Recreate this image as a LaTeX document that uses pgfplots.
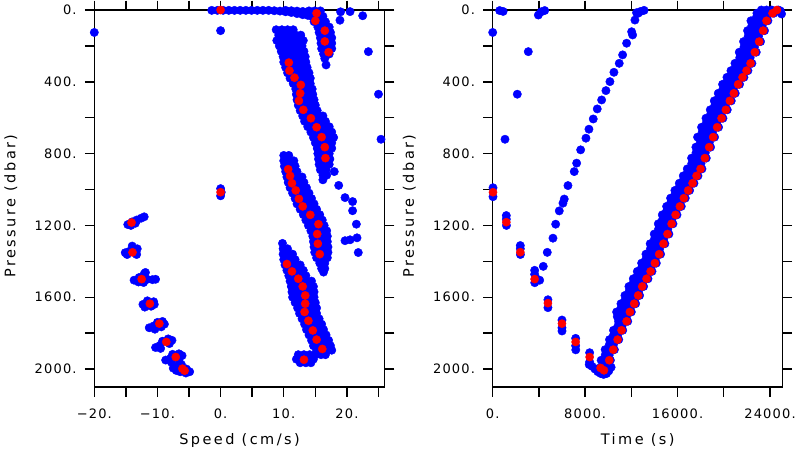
\documentclass[border=0pt]{standalone}
\usepackage{fontspec}
\usepackage{pgfplots}
\pgfplotsset{compat=1.18}
\newfontfamily\tickfont{DejaVu Sans}[LetterSpace=9]
\newfontfamily\labelfont{DejaVu Sans}[LetterSpace=17]

\pgfplotsset{
  panel/.style={
    scale only axis, width=290.5bp, height=377bp, anchor=south west,
    y dir=reverse, ymin=0, ymax=2100,
    ytick={0,200,...,2000},
    yticklabels={0.,,400.,,800.,,1200.,,1600.,,2000.},
    scaled x ticks=false, scaled y ticks=false,
    tick align=outside, major tick length=9.5bp,
    axis line style={line width=1.4bp},
    every tick/.style={black, line width=1.4bp},
    tick label style={font=\tickfont\fontsize{13bp}{15bp}\selectfont, inner sep=0pt},
    xticklabel style={anchor=base, yshift=-21.5bp},
    yticklabel style={anchor=east, xshift=-8bp},
    ylabel={Pressure (dbar)},
    every axis y label/.style={at={(axis description cs:-0.2718,0.48)}, rotate=90,
      anchor=base, inner sep=0pt, font=\labelfont\fontsize{14.5bp}{17bp}\selectfont},
    every axis x label/.style={at={(axis description cs:0.5,-0.1512)},
      anchor=base, inner sep=0pt, font=\labelfont\fontsize{14.5bp}{17bp}\selectfont},
  },
  bluedot/.style={only marks, color=blue, mark=*, mark size=4.2bp,
    mark options={fill=blue, draw=blue, line width=0.4bp}},
  reddot/.style={only marks, color=red, mark=*, mark size=4.1bp,
    mark options={fill=red, draw=red, line width=0.4bp}},
}

\begin{document}
\begin{tikzpicture}
\useasboundingbox (0,0) rectangle (800bp,450bp);

% speed panel
\begin{axis}[panel, at={(94.3bp,63bp)},
  xmin=-20, xmax=26,
  xtick={-20,-15,...,25},
  xticklabels={−20.,,−10.,,0.,,10.,,20.,},
  xlabel={Speed (cm/s)},
]
\addplot[bluedot] coordinates {
 (-1.4,2)(-0.5,2)(0.4,2)(1.3,2)(2.2,2)(3.1,2)(4.0,2)(4.9,2)(5.8,2)(6.7,2)(7.6,2)
 (8.5,4)(9.4,6)(10.3,2)(10.3,10)(11.2,4)(11.2,14)(12.1,6)(12.1,20)(13.0,8)(13.0,26)(13.8,12)(13.8,30)
 (0,115)(-20,125)(0,995)(0.1,1015)(0,1035)
 (19.0,10)(18.9,57)(20.5,9)(22.5,32)(23.4,232)(25.0,469)(25.4,720)(16.7,306)
 (18.0,900)(18.7,977)(19.7,1045)(20.9,1067)(20.9,1118)(21.5,1193)
 (19.7,1285)(20.5,1280)(21.6,1269)(21.8,1351)
 (14.0,5)(14.9,5)(15.8,5)(14.4,35)(15.3,35)(16.2,35)(14.8,65)(15.7,65)(16.6,65)
 (15.4,95)(16.3,95)(17.2,95)(15.6,125)(16.5,125)(17.4,125)(15.8,155)(16.7,155)(17.6,155)
 (15.9,185)(16.8,185)(17.6,185)(16.0,215)(16.9,215)(17.6,215)(16.3,245)(17.2,245)(16.5,270)
 (8.8,110)(9.7,110)(10.6,110)(11.5,110)
 (9.2,140)(10.1,140)(11.0,140)(11.9,140)(12.7,140)
 (8.9,170)(9.8,170)(10.7,170)(11.6,170)(12.5,170)(13.1,170)
 (9.3,200)(10.2,200)(11.1,200)(12.0,200)(12.9,200)
 (9.6,230)(10.5,230)(11.4,230)(12.3,230)(13.2,230)
 (9.9,260)(10.8,260)(11.7,260)(12.6,260)(13.4,260)
 (10.0,290)(10.9,290)(11.8,290)(12.7,290)(13.5,290)
 (10.3,320)(11.2,320)(12.1,320)(13.0,320)(13.7,320)
 (10.6,350)(11.5,350)(12.4,350)(13.3,350)(14.0,350)
 (11.0,380)(11.9,380)(12.8,380)(13.7,380)(14.2,380)
 (11.5,410)(12.4,410)(13.3,410)(14.2,410)
 (11.9,440)(12.8,440)(13.7,440)(14.5,440)
 (12.0,470)(12.9,470)(13.8,470)(14.6,470)
 (12.1,500)(13.0,500)(13.9,500)(14.8,500)
 (12.3,530)(13.2,530)(14.1,530)(15.0,530)
 (12.6,560)(13.5,560)(14.4,560)(15.3,560)
 (13.0,590)(13.9,590)(14.8,590)(15.7,590)(16.2,590)
 (13.3,620)(14.2,620)(15.1,620)(16.0,620)(16.6,620)
 (13.8,650)(14.7,650)(15.6,650)(16.5,650)(17.2,650)
 (14.3,680)(15.2,680)(16.1,680)(17.0,680)(17.6,680)
 (14.7,710)(15.6,710)(16.5,710)(17.4,710)(17.9,710)
 (15.0,740)(15.9,740)(16.8,740)(17.6,740)
 (15.3,770)(16.2,770)(17.1,770)(17.6,770)
 (15.4,800)(16.3,800)(17.2,800)
 (15.5,830)(16.4,830)(17.3,830)
 (15.6,860)(16.5,860)(17.2,860)
 (15.8,890)(16.7,890)(16.2,920)(16.8,920)(16.2,946)
 (10.0,810)(10.8,810)
 (10.0,840)(10.9,840)(11.6,840)
 (10.1,870)(11.0,870)(11.8,870)
 (10.3,900)(11.2,900)(12.1,900)
 (10.5,930)(11.4,930)(12.3,930)(12.9,930)
 (10.7,960)(11.6,960)(12.5,960)(13.2,960)
 (11.0,990)(11.9,990)(12.8,990)(13.6,990)
 (11.4,1020)(12.3,1020)(13.2,1020)(14.0,1020)
 (11.8,1050)(12.7,1050)(13.6,1050)(14.4,1050)
 (12.1,1080)(13.0,1080)(13.9,1080)(14.8,1080)
 (12.6,1110)(13.5,1110)(14.4,1110)(15.2,1110)
 (13.1,1140)(14.0,1140)(14.9,1140)(15.7,1140)
 (13.5,1170)(14.4,1170)(15.3,1170)(16.1,1170)
 (13.9,1200)(14.8,1200)(15.7,1200)(16.4,1200)
 (14.3,1230)(15.2,1230)(16.1,1230)(16.8,1230)
 (14.6,1260)(15.5,1260)(16.4,1260)(16.9,1260)
 (14.7,1290)(15.6,1290)(16.5,1290)(16.9,1290)
 (14.8,1320)(15.7,1320)(16.6,1320)(17.0,1320)
 (14.9,1350)(15.8,1350)(16.7,1350)(17.0,1350)
 (15.2,1380)(16.1,1380)(16.9,1380)
 (15.7,1410)(16.5,1410)(16.0,1440)(16.5,1440)(16.3,1460)
 (9.8,1300)(9.9,1330)(10.6,1330)
 (9.9,1360)(10.8,1360)(11.4,1360)
 (10.0,1390)(10.9,1390)(11.8,1390)
 (10.2,1420)(11.1,1420)(12.0,1420)(12.6,1420)
 (10.5,1450)(11.4,1450)(12.3,1450)(13.1,1450)
 (10.8,1480)(11.7,1480)(12.6,1480)(13.5,1480)
 (11.0,1510)(11.9,1510)(12.8,1510)(13.7,1510)(14.4,1510)
 (11.2,1540)(12.1,1540)(13.0,1540)(13.9,1540)(14.7,1540)
 (11.3,1570)(12.2,1570)(13.1,1570)(14.0,1570)(14.8,1570)
 (11.4,1600)(12.3,1600)(13.2,1600)(14.1,1600)(14.8,1600)
 (11.8,1630)(12.7,1630)(13.6,1630)(14.5,1630)(15.0,1630)
 (12.2,1660)(13.1,1660)(14.0,1660)(14.9,1660)(15.2,1660)
 (12.5,1690)(13.4,1690)(14.3,1690)(15.2,1690)
 (12.9,1720)(13.8,1720)(14.7,1720)(15.6,1720)
 (13.3,1750)(14.2,1750)(15.1,1750)(16.0,1750)
 (13.6,1780)(14.5,1780)(15.4,1780)(16.3,1780)
 (14.0,1810)(14.9,1810)(15.8,1810)(16.7,1810)
 (14.4,1840)(15.3,1840)(16.2,1840)(17.1,1840)
 (14.7,1870)(15.6,1870)(16.5,1870)(17.4,1870)
 (15.2,1895)(16.1,1895)(17.0,1895)(17.6,1895)
 (12.3,1920)(13.2,1920)(14.1,1920)(15.0,1920)(15.9,1920)(16.6,1920)
 (12.0,1945)(12.9,1945)(13.8,1945)(14.7,1945)
 (12.6,1965)(13.5,1965)(14.3,1965)
 (-14.7,1195)(-14.0,1180)(-13.3,1170)(-12.6,1160)(-12.1,1152)(-14.2,1200)(-13.5,1188)
 (-15.1,1352)(-14.5,1345)(-13.7,1335)(-13.2,1330)(-14.0,1315)(-13.4,1350)(-14.8,1362)(-13.3,1362)
 (-13.7,1505)(-13.0,1515)(-12.9,1490)(-12.1,1470)(-11.9,1462)(-11.6,1500)(-10.8,1502)(-10.3,1500)(-12.2,1518)
 (-12.3,1640)(-11.6,1620)(-10.6,1625)(-11.0,1650)(-12.0,1655)(-10.5,1640)
 (-11.3,1770)(-10.6,1760)(-10.0,1740)(-9.2,1735)(-8.9,1750)(-9.4,1765)(-10.4,1778)
 (-10.3,1880)(-9.6,1868)(-9.2,1845)(-8.3,1832)(-7.7,1840)(-8.1,1858)(-9.5,1885)
 (-8.7,1950)(-8.0,1942)(-7.6,1918)(-6.6,1915)(-6.1,1925)(-7.8,1962)(-6.6,1950)
 (-7.5,1995)(-6.8,1985)(-6.2,1975)(-5.4,2000)(-4.9,2015)(-5.5,2022)(-6.4,2015)(-7.0,2008)
};
\addplot[reddot] coordinates {
 (0,0)(0,1015)
 (15.2,18)(15.0,60)(16.5,115)(16.5,175)(17.1,235)
 (10.8,293)(10.9,338)(11.7,377)(12.7,417)(12.6,464)(12.4,506)(13.1,556)(14.3,603)
 (15.2,653)(16.0,708)(16.5,764)(16.6,825)
 (10.7,887)(11.0,924)(11.3,965)(11.9,1005)(12.4,1052)(13.0,1094)(14.2,1141)
 (15.5,1193)(15.3,1248)(15.4,1302)(15.7,1360)
 (10.5,1415)(11.3,1456)(12.3,1497)(13.0,1540)(13.4,1590)(13.4,1636)(13.3,1682)
 (13.9,1731)(14.6,1785)(15.2,1836)(16.1,1888)(13.2,1948)
 (-14.1,1184)(-13.95,1350)(-12.5,1499)(-11.2,1636)(-9.7,1747)(-8.6,1849)
 (-7.1,1933)(-6.05,1998)(-5.7,2009)
};
\end{axis}

% time panel
\begin{axis}[panel, at={(492.7bp,63bp)}, width=290bp,
  xmin=0, xmax=25100,
  xtick={0,4000,...,24000},
  xticklabels={0.,,8000.,,16000.,,24000.},
  xlabel={Time (s)},
]
\addplot[bluedot] coordinates {
 (0,125)(26,990)(26,1040)(600,3)(900,8)(3950,28)(4200,10)(4500,3)
 (3080,232)(2128,469)(1064,720)(24900,5)(25000,22)
 (13100,2)(12800,8)(12450,15)
 (12594,18)(12309,56)(12024,121)(12110,139)(11591,185)(11245,250)(10951,297)
 (10492,347)(10146,399)(9800,449)(9429,501)(9048,551)(8702,607)(8330,664)
 (8070,714)(7612,779)(7266,853)(7058,900)(6513,978)(6193,1053)(6081,1076)
 (5761,1119)(5450,1193)(5216,1271)(4723,1350)(4377,1428)(4065,1505)
 (1178,1145)(1178,1165)(1190,1200)
 (2390,1312)(2390,1330)(2400,1362)
 (3630,1450)(3630,1472)(3640,1519)(3750,1495)
 (4780,1614)(4780,1658)
 (5995,1727)(5995,1770)(6000,1788)
 (7180,1829)(7180,1870)(7190,1893)
 (8390,1909)(8390,1960)
 (8350,1975)(8600,1985)(8850,2000)(9100,2015)(9350,2025)(9600,2030)(9850,2025)
 (10050,2010)(10250,1990)(9200,1995)(9500,2005)(9800,2000)(10000,1975)(9700,1970)
 (9387,1951)(9737,1951)(10187,1951)(9735,1922)(10085,1922)
 (9733,1892)(10083,1892)(10533,1892)(10097,1864)(10447,1864)
 (10110,1836)(10460,1836)(10910,1836)(10458,1810)(10808,1810)
 (10455,1784)(10805,1784)(11255,1784)(10848,1759)(11198,1759)
 (10890,1734)(11240,1734)(11690,1734)(10784,1708)(11184,1708)(11584,1708)
 (10727,1682)(11127,1682)(11527,1682)(11997,1682)(11114,1659)(11514,1659)(11914,1659)
 (11100,1636)(11500,1636)(11900,1636)(12370,1636)(11472,1613)(11872,1613)(12272,1613)
 (11444,1590)(11844,1590)(12244,1590)(12714,1590)(11817,1565)(12217,1565)(12617,1565)
 (11790,1540)(12190,1540)(12590,1540)(13060,1540)(12180,1518)(12580,1518)(12980,1518)
 (12170,1497)(12570,1497)(12970,1497)(13440,1497)(12544,1476)(12944,1476)(13344,1476)
 (12517,1456)(12917,1456)(13317,1456)(13787,1456)(12904,1433)(13304,1433)(13704,1433)
 (12890,1410)(13290,1410)(13690,1410)(14160,1410)(13276,1385)(13676,1385)(14076,1385)
 (13261,1360)(13661,1360)(14061,1360)(14531,1360)(13646,1331)(14046,1331)(14446,1331)
 (13630,1302)(14030,1302)(14430,1302)(14900,1302)(14005,1275)(14405,1275)(14805,1275)
 (13980,1248)(14380,1248)(14780,1248)(15250,1248)(14357,1220)(14757,1220)(15157,1220)
 (14334,1191)(14734,1191)(15134,1191)(15604,1191)(14707,1166)(15107,1166)(15507,1166)
 (14680,1141)(15080,1141)(15480,1141)(15950,1141)(15066,1118)(15466,1118)(15866,1118)
 (15052,1094)(15452,1094)(15852,1094)(16322,1094)(15425,1071)(15825,1071)(16225,1071)
 (15397,1048)(15797,1048)(16197,1048)(16667,1048)(15784,1027)(16184,1027)(16584,1027)
 (15770,1005)(16170,1005)(16570,1005)(17040,1005)(16160,985)(16560,985)(16960,985)
 (16150,965)(16550,965)(16950,965)(17420,965)(16523,945)(16923,945)(17323,945)
 (16496,924)(16896,924)(17296,924)(17766,924)(16869,905)(17269,905)(17669,905)
 (16842,885)(17242,885)(17642,885)(18112,885)(17228,855)(17628,855)(18028,855)
 (17214,825)(17614,825)(18014,825)(18484,825)(17600,795)(18000,795)(18400,795)
 (17586,764)(17986,764)(18386,764)(18856,764)(17959,736)(18359,736)(18759,736)
 (17732,708)(18182,708)(18632,708)(19202,708)(18130,680)(18580,680)(19030,680)
 (18078,653)(18528,653)(18978,653)(19548,653)(18493,628)(18943,628)(19393,628)
 (18458,603)(18908,603)(19358,603)(19928,603)(18870,580)(19320,580)(19770,580)
 (18831,556)(19281,556)(19731,556)(20301,556)(19229,531)(19679,531)(20129,531)
 (19177,506)(19627,506)(20077,506)(20647,506)(19575,485)(20025,485)(20475,485)
 (19523,464)(19973,464)(20423,464)(20993,464)(19934,439)(20384,439)(20834,439)
 (19895,414)(20345,414)(20795,414)(21365,414)(20310,395)(20760,395)(21210,395)
 (20275,375)(20725,375)(21175,375)(21745,375)(20673,357)(21123,357)(21573,357)
 (20621,338)(21071,338)(21521,338)(22091,338)(21019,318)(21469,318)(21919,318)
 (20967,297)(21417,297)(21867,297)(22437,297)(21379,266)(21829,266)(22279,266)
 (21340,235)(21790,235)(22240,235)(22810,235)(21751,206)(22201,206)(22651,206)
 (21712,176)(22162,176)(22612,176)(23182,176)(22110,146)(22560,146)(23010,146)
 (22057,115)(22507,115)(22957,115)(23527,115)(22429,88)(22879,88)(23329,88)
 (22350,60)(22800,60)(23250,60)(23820,60)(22835,39)(23285,39)(23735,39)
 (22870,18)(23320,18)(23770,18)(24340,18)(23285,9)(23735,9)(24185,9)
 (23250,0)(23700,0)(24150,0)(24720,0)
};
\addplot[reddot] coordinates {
 (26,1015)
 (1178,1182)(2390,1349)(3630,1499)(4780,1633)(5995,1747)(7180,1849)(8390,1933)
 (9340,1994)(9630,2007)
 (10087,1951)(10433,1892)(10810,1836)(11155,1784)(11590,1734)(11877,1682)
 (12250,1636)(12594,1590)(12940,1540)(13320,1497)(13667,1456)(14040,1410)
 (14411,1360)(14780,1302)(15130,1248)(15484,1191)(15830,1141)(16202,1094)
 (16547,1048)(16920,1005)(17300,965)(17646,924)(17992,885)(18364,825)
 (18736,764)(19082,708)(19428,653)(19808,603)(20181,556)(20527,506)
 (20873,464)(21245,414)(21625,375)(21971,338)(22317,297)(22690,235)
 (23062,176)(23407,115)(23700,60)(24220,18)(24600,0)
};
\end{axis}
\end{tikzpicture}
\end{document}
